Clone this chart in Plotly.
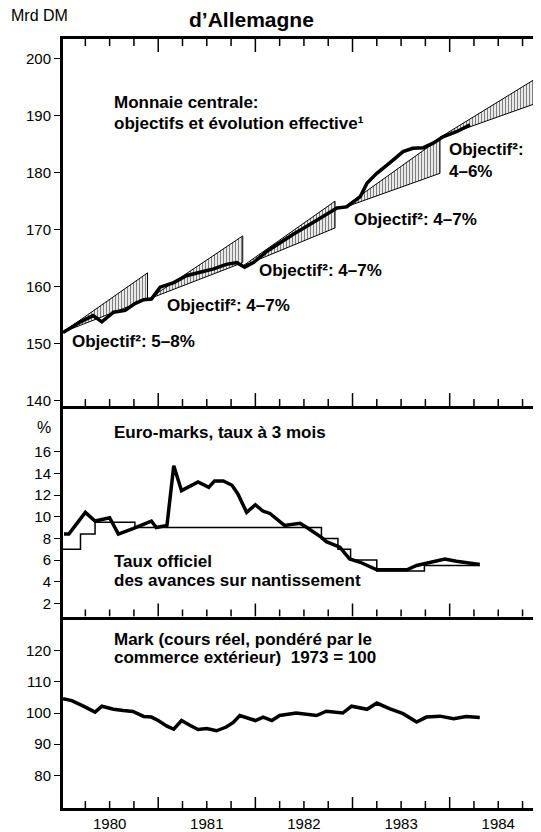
import plotly.graph_objs as go

# x values are fractional years (1980.5 = mid 1980)

# Monnaie centrale, evolution effective (Mrd DM)
mc_t = [1980.02, 1980.20, 1980.33, 1980.42, 1980.54, 1980.66, 1980.76, 1980.85,
        1980.93, 1981.02, 1981.16, 1981.29, 1981.43, 1981.57, 1981.70, 1981.81,
        1981.89, 1981.98, 1982.12, 1982.25, 1982.39, 1982.53, 1982.70, 1982.84,
        1982.94, 1983.08, 1983.15, 1983.25, 1983.38, 1983.52, 1983.62, 1983.73,
        1983.83, 1983.93, 1984.07, 1984.21]
mc_val = [151.9, 153.8, 154.9, 153.8, 155.5, 155.8, 157.0, 157.7,
          157.8, 159.9, 160.7, 161.9, 162.5, 163.1, 163.9, 164.2,
          163.4, 164.2, 166.2, 167.7, 169.2, 170.6, 172.4, 173.8,
          174.0, 175.8, 178.2, 179.9, 181.7, 183.7, 184.3, 184.4,
          185.2, 186.3, 187.2, 188.4]

# Objectifs (corridors)
obj_start_t = [1980.02, 1980.90, 1981.87, 1982.90, 1983.90]
obj_base = [152.0, 157.8, 163.6, 173.8, 186.2]
obj_end_t = [1980.89, 1981.87, 1982.82, 1983.90, 1984.94]
obj_upper = [162.4, 168.9, 175.0, 186.0, 197.1]
obj_lower = [157.8, 164.2, 170.3, 179.9, 192.5]
obj_labels = ["Objectif²: 5–8%", "Objectif²: 4–7%", "Objectif²: 4–7%",
              "Objectif²: 4–7%", "Objectif²:<br>4–6%"]

# Euro-marks, taux a 3 mois (%)
em_t = [1980.03, 1980.08, 1980.25, 1980.35, 1980.50, 1980.59, 1980.74, 1980.93,
        1980.98, 1981.09, 1981.16, 1981.24, 1981.41, 1981.52, 1981.58, 1981.67,
        1981.76, 1981.82, 1981.91, 1982.00, 1982.08, 1982.15, 1982.30, 1982.46,
        1982.53, 1982.68, 1982.73, 1982.87, 1982.97, 1983.08, 1983.25, 1983.42,
        1983.56, 1983.66, 1983.76, 1983.95, 1984.07, 1984.17, 1984.31]
em_val = [8.4, 8.4, 10.4, 9.6, 9.9, 8.4, 8.9, 9.6,
          9.0, 9.2, 14.7, 12.4, 13.2, 12.7, 13.3, 13.3,
          12.9, 12.1, 10.4, 11.1, 10.5, 10.3, 9.2, 9.4,
          9.0, 8.1, 7.7, 7.2, 6.1, 5.8, 5.1, 5.1,
          5.1, 5.5, 5.7, 6.1, 5.9, 5.8, 5.6]

# Taux officiel des avances sur nantissement (%)
lomb_t = [1980.02, 1980.20, 1980.35, 1980.76, 1982.68, 1982.85, 1982.98,
          1983.25, 1983.74, 1984.31]
lomb_val = [7.0, 8.4, 9.5, 9.0, 8.0, 7.0, 6.0, 5.0, 5.5, 5.5]

# Mark, cours reel (1973 = 100)
dm_t = [1980.02, 1980.11, 1980.23, 1980.35, 1980.42, 1980.54, 1980.64, 1980.74,
        1980.85, 1980.93, 1981.00, 1981.09, 1981.16, 1981.24, 1981.33, 1981.41,
        1981.50, 1981.60, 1981.70, 1981.77, 1981.84, 1981.93, 1982.00, 1982.08,
        1982.17, 1982.25, 1982.42, 1982.63, 1982.73, 1982.90, 1982.99, 1983.15,
        1983.25, 1983.38, 1983.52, 1983.66, 1983.76, 1983.90, 1984.04, 1984.17,
        1984.31]
dm_val = [104.6, 104.0, 102.2, 100.3, 102.2, 101.2, 100.8, 100.5,
          98.9, 98.7, 97.6, 95.8, 94.8, 97.6, 96.0, 94.7,
          95.0, 94.3, 95.5, 96.9, 99.2, 98.4, 97.6, 98.7,
          97.6, 99.2, 100.0, 99.2, 100.6, 100.0, 102.2, 101.2,
          103.2, 101.4, 99.8, 97.1, 98.7, 99.0, 98.2, 98.9,
          98.6]

years = [1980, 1981, 1982, 1983, 1984]
year_ticks = [1981, 1982, 1983, 1984]
quarters = [y + q for y in years for q in (0.25, 0.5, 0.75)]
year_mid = [y + 0.5 for y in years]

FONT = "Liberation Sans, Arial, sans-serif"
XRANGE = [1980.02, 1984.94]
DOM_TOP = [0.5227, 1.0]
DOM_MID = [0.249, 0.5227]
DOM_BOT = [0.0, 0.249]
YR_TOP = [139, 203.5]
YR_MID = [0.8, 20.2]
YR_BOT = [69.5, 131]
PLOT_H = 771  # plot area height in px

traces = []
for i in range(len(obj_start_t)):
    traces.append(go.Scatter(
        x=[obj_start_t[i], obj_end_t[i], obj_end_t[i], obj_start_t[i]],
        y=[obj_base[i], obj_upper[i], obj_lower[i], obj_base[i]],
        mode="lines", fill="toself", fillcolor="white",
        fillpattern=dict(shape="|", fgcolor="black", bgcolor="white",
                         size=3, solidity=0.45),
        line=dict(color="black", width=1),
        xaxis="x", yaxis="y", showlegend=False, hoverinfo="skip"))

traces.append(go.Scatter(x=mc_t, y=mc_val, mode="lines",
                         line=dict(color="black", width=3.5),
                         xaxis="x", yaxis="y", showlegend=False))
traces.append(go.Scatter(x=lomb_t, y=lomb_val, mode="lines",
                         line=dict(color="black", width=1.5, shape="hv"),
                         xaxis="x2", yaxis="y2", showlegend=False))
traces.append(go.Scatter(x=em_t, y=em_val, mode="lines",
                         line=dict(color="black", width=3.5),
                         xaxis="x2", yaxis="y2", showlegend=False))
traces.append(go.Scatter(x=dm_t, y=dm_val, mode="lines",
                         line=dict(color="black", width=3.5),
                         xaxis="x3", yaxis="y3", showlegend=False))


def tick_trace(xa, ya, dom, yr, at_top, vals, up_px, down_px=0):
    # short vertical segments along a panel edge (time ticks)
    per_px = (yr[1] - yr[0]) / ((dom[1] - dom[0]) * PLOT_H)
    xs, ys = [], []
    for v in vals:
        if at_top:
            y0, y1 = yr[1] - up_px * per_px, yr[1] + down_px * per_px
        else:
            y0, y1 = yr[0] - down_px * per_px, yr[0] + up_px * per_px
        xs += [v, v, None]
        ys += [y0, y1, None]
    return go.Scatter(x=xs, y=ys, mode="lines", cliponaxis=False,
                      line=dict(color="black", width=1.5),
                      xaxis=xa, yaxis=ya, showlegend=False, hoverinfo="skip")


traces.append(tick_trace("x", "y", DOM_TOP, YR_TOP, True, quarters, 7))
traces.append(tick_trace("x", "y", DOM_TOP, YR_TOP, True, year_ticks, 13))
traces.append(tick_trace("x", "y", DOM_TOP, YR_TOP, False, quarters, 7))
traces.append(tick_trace("x", "y", DOM_TOP, YR_TOP, False, year_ticks, 13))
traces.append(tick_trace("x2", "y2", DOM_MID, YR_MID, False, quarters, 7))
traces.append(tick_trace("x2", "y2", DOM_MID, YR_MID, False, year_ticks, 13))
traces.append(tick_trace("x3", "y3", DOM_BOT, YR_BOT, False, quarters, 7))
traces.append(tick_trace("x3", "y3", DOM_BOT, YR_BOT, False, year_ticks, 11, 7))


def xax(anchor, labels, mirror):
    # frame line and year labels (middle of each year)
    return dict(range=XRANGE, anchor=anchor, showgrid=False,
                zeroline=False, showline=True, linecolor="black", linewidth=3,
                mirror=mirror, ticks="", tickmode="array", tickvals=year_mid,
                ticktext=[str(y) for y in years], showticklabels=labels,
                tickfont=dict(family=FONT, size=15, color="black"))


def yax(anchor, domain, rng, vals):
    return dict(domain=domain, range=rng, anchor=anchor, showgrid=False,
                zeroline=False, showline=True, linecolor="black", linewidth=3,
                ticks="outside", ticklen=6, tickwidth=1.3, tickcolor="black",
                tickmode="array", tickvals=vals,
                tickfont=dict(family=FONT, size=15, color="black"))


# the page body adds an 8px margin, so the figure is 8px smaller each way
layout = go.Layout(
    width=533, height=824,
    margin=dict(l=55, r=0, t=31, b=22),
    paper_bgcolor="white", plot_bgcolor="white",
    font=dict(family=FONT, color="black"),
    xaxis=xax("y", False, True),
    xaxis2=xax("y2", False, False),
    xaxis3=xax("y3", True, False),
    yaxis=yax("x", DOM_TOP, YR_TOP, [140, 150, 160, 170, 180, 190, 200]),
    yaxis2=yax("x2", DOM_MID, YR_MID, [2, 4, 6, 8, 10, 12, 14, 16]),
    yaxis3=yax("x3", DOM_BOT, YR_BOT, [80, 90, 100, 110, 120]),
)

bold = dict(family=FONT, size=17, color="black", weight="bold")
ann = []


def note(text, x, y, xref, yref, font=bold, xanchor="left", yanchor="middle"):
    ann.append(dict(text=text, x=x, y=y, xref=xref, yref=yref, showarrow=False,
                    xanchor=xanchor, yanchor=yanchor, align="left", font=font))


note("d’Allemagne", 0.395, 1.026, "paper", "paper",
     font=dict(family=FONT, size=21, color="black", weight="bold"), xanchor="center")
note("Mrd DM", -0.113, 1.031, "paper", "paper",
     font=dict(family=FONT, size=16, color="black"), xanchor="left")
note("%", -0.021, 18.2, "paper", "y2",
     font=dict(family=FONT, size=16, color="black"), xanchor="right")

note("Monnaie centrale:", 1980.525, 192.4, "x", "y")
note("objectifs et évolution effective¹", 1980.525, 188.7, "x", "y")
obj_lab_x = [1980.09, 1981.07, 1982.016, 1982.99, 1983.97]
obj_lab_y = [150.3, 156.6, 162.9, 171.8, 182.1]
for i in range(len(obj_labels)):
    note(obj_labels[i], obj_lab_x[i], obj_lab_y[i], "x", "y")

note("Euro-marks, taux à 3 mois", 1980.525, 17.8, "x2", "y2")
note("Taux officiel", 1980.525, 5.85, "x2", "y2")
note("des avances sur nantissement", 1980.525, 4.1, "x2", "y2")

note("Mark (cours réel, pondéré par le", 1980.525, 123.5, "x3", "y3")
note("commerce extérieur)  1973 = 100", 1980.525, 117.7, "x3", "y3")

layout.annotations = ann

fig = go.Figure(data=traces, layout=layout)
fig.write_html("out.html")
